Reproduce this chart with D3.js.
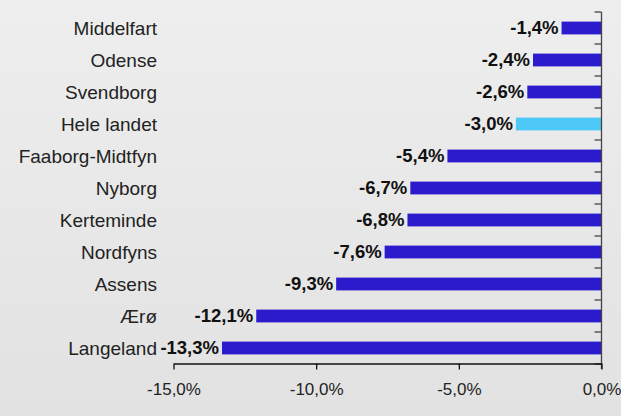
<!DOCTYPE html>
<html>
<head>
<meta charset="utf-8">
<script src="https://cdn.jsdelivr.net/npm/d3@7"></script>
<style>
  html, body { margin: 0; padding: 0; }
  body { width: 621px; height: 416px; overflow: hidden; }
  svg text { font-family: "Liberation Sans", Arial, sans-serif; }
</style>
</head>
<body>
<div id="chart"></div>
<script>
// Data
const categories = ["Middelfart", "Odense", "Svendborg", "Hele landet", "Faaborg-Midtfyn", "Nyborg", "Kerteminde", "Nordfyns", "Assens", "Ærø", "Langeland"]
const values = [-1.4, -2.4, -2.6, -3.0, -5.4, -6.7, -6.8, -7.6, -9.3, -12.1, -13.3]
const highlight = ["Hele landet"]
const xTicks = [-15, -10, -5, 0]

const width = 621, height = 416
const data = categories.map((c, i) => ({ name: c, value: values[i] }))
const fmt = v => d3.format(".1f")(v).replace("−", "-").replace(".", ",") + "%"

const svg = d3.select("#chart").append("svg")
    .attr("width", width)
    .attr("height", height)

const defs = svg.append("defs")
const grad = defs.append("linearGradient").attr("id", "bg").attr("x1", 0).attr("x2", 0).attr("y1", 0).attr("y2", 1)
grad.append("stop").attr("offset", "0%").attr("stop-color", "#eeeeee")
grad.append("stop").attr("offset", "100%").attr("stop-color", "#e2e2e2")
svg.append("rect").attr("width", width).attr("height", height).attr("fill", "url(#bg)")

// Scales
const x = d3.scaleLinear().domain([-15, 0]).range([173.5, 601.5])
const y = d3.scaleBand().domain(categories).range([12, 364]).paddingInner(0.6).paddingOuter(0.3)

// Bars
svg.selectAll("rect.bar")
    .data(data)
    .join("rect")
    .attr("class", "bar")
    .attr("x", d => x(d.value))
    .attr("y", d => y(d.name))
    .attr("width", d => x(0) - x(d.value))
    .attr("height", y.bandwidth())
    .attr("fill", d => highlight.includes(d.name) ? "#4ec8f6" : "#2b1bcc")

// Value labels
svg.selectAll("text.val")
    .data(data)
    .join("text")
    .attr("class", "val")
    .attr("x", d => x(d.value) - 3)
    .attr("y", d => y(d.name) + y.bandwidth() / 2)
    .attr("dy", "0.35em")
    .attr("text-anchor", "end")
    .attr("font-weight", "bold")
    .attr("font-size", "18.5px")
    .attr("fill", "#111")
    .text(d => fmt(d.value))

// Category labels
svg.selectAll("text.cat")
    .data(data)
    .join("text")
    .attr("class", "cat")
    .attr("x", 157)
    .attr("y", d => y(d.name) + y.bandwidth() / 2)
    .attr("dy", "0.36em")
    .attr("text-anchor", "end")
    .attr("font-size", "19px")
    .attr("fill", "#222")
    .text(d => d.name)

// Y axis (right at zero) with ticks between categories
const bounds = d3.range(categories.length + 1).map(i => 12 + i * y.step())
svg.append("line")
    .attr("x1", x(0)).attr("x2", x(0))
    .attr("y1", 12).attr("y2", 369)
    .attr("stroke", "#444").attr("stroke-width", 1.3)
svg.selectAll("line.ytick")
    .data(bounds)
    .join("line")
    .attr("class", "ytick")
    .attr("x1", x(0) - 7).attr("x2", x(0))
    .attr("y1", d => d).attr("y2", d => d)
    .attr("stroke", "#444").attr("stroke-width", 1.3)

// X axis
const xAxis = svg.append("g")
    .attr("transform", "translate(0,363.5)")
    .call(d3.axisBottom(x).tickValues(xTicks).tickSize(6).tickSizeOuter(0).tickFormat(d => fmt(d)))
xAxis.select(".domain").attr("stroke", "#111").attr("stroke-width", 1.3)
xAxis.selectAll(".tick line").attr("stroke", "#111").attr("stroke-width", 1.3)
xAxis.selectAll(".tick text")
    .attr("y", 19)
    .attr("font-size", "17px")
    .attr("font-family", "Liberation Sans, Arial, sans-serif")
    .attr("fill", "#222")
</script>
</body>
</html>
